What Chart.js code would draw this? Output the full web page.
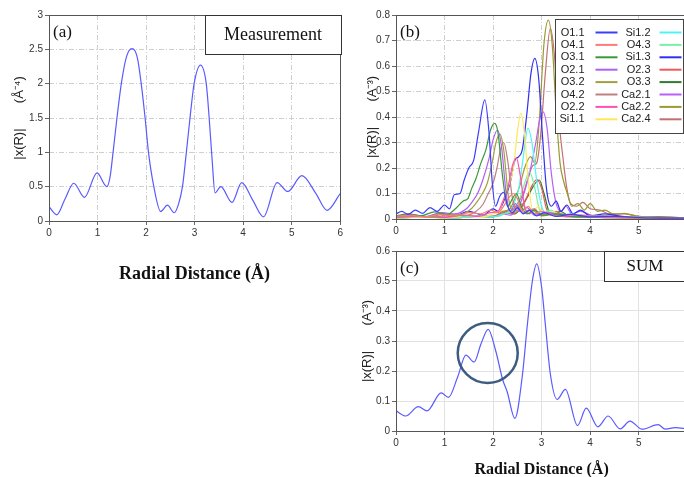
<!DOCTYPE html>
<html>
<head>
<meta charset="utf-8">
<script src="https://cdn.jsdelivr.net/npm/chart.js@4.4.0/dist/chart.umd.min.js"></script>
<style>
	html, body { margin: 0; padding: 0; background: #fff; width: 684px; height: 477px; overflow: hidden; position: relative; }
	canvas { position: absolute; }
	#ca { left: 0; top: 0; }
	#cb { left: 345px; top: 0; }
	#cc { left: 345px; top: 240px; }
</style>
</head>
<body>
<canvas id="ca" width="345" height="290"></canvas>
<canvas id="cb" width="347" height="240"></canvas>
<canvas id="cc" width="347" height="245"></canvas>
<script>
// (a) measured |x(R)|
const measR = [0, 0.16, 0.33, 0.51, 0.73, 0.99, 1.19, 1.26, 1.32, 1.4, 1.49, 1.6, 1.71, 1.82, 1.9, 1.98, 2.05, 2.16, 2.3, 2.44, 2.58, 2.67, 2.75, 2.83, 2.92, 2.99, 3.12, 3.24, 3.3, 3.36, 3.42, 3.54, 3.77, 3.97, 4.2, 4.42, 4.7, 4.92, 5.21, 5.5, 5.73, 6]
const measChi = [0.21, 0.09, 0.32, 0.55, 0.345, 0.7, 0.5, 0.65, 1.0, 1.5, 2.0, 2.4, 2.51, 2.38, 2.0, 1.5, 1.0, 0.5, 0.14, 0.23, 0.12, 0.25, 0.5, 1.0, 1.6, 2.0, 2.27, 2.0, 1.5, 0.9, 0.41, 0.5, 0.27, 0.56, 0.3, 0.06, 0.56, 0.43, 0.66, 0.4, 0.155, 0.4]

// (c) summed paths
const sumR = [0, 0.2, 0.46, 0.64, 0.93, 1.08, 1.27, 1.44, 1.61, 1.75, 1.9, 2.05, 2.2, 2.29, 2.45, 2.6, 2.71, 2.81, 2.9, 3.0, 3.08, 3.18, 3.32, 3.49, 3.74, 3.92, 4.16, 4.37, 4.62, 4.82, 5.07, 5.4, 5.55, 5.75, 6]
const sumChi = [0.067, 0.05, 0.081, 0.067, 0.127, 0.112, 0.18, 0.253, 0.23, 0.29, 0.339, 0.27, 0.17, 0.131, 0.042, 0.18, 0.36, 0.5, 0.557, 0.48, 0.35, 0.19, 0.105, 0.139, 0.018, 0.076, 0.014, 0.05, 0.007, 0.033, 0.006, 0.021, 0.006, 0.011, 0.007]

// (b) single scattering paths, [R, |x(R)|]
const o11 = [[0,0.02],[0.12,0.03],[0.25,0.018],[0.4,0.035],[0.55,0.022],[0.7,0.045],[0.85,0.03],[1.0,0.055],[1.1,0.04],[1.2,0.095],[1.32,0.1],[1.4,0.15],[1.5,0.2],[1.6,0.23],[1.7,0.34],[1.83,0.467],[1.92,0.33],[1.98,0.15],[2.05,0.05],[2.14,0.09],[2.22,0.105],[2.3,0.05],[2.4,0.025],[2.5,0.045],[2.62,0.02],[2.75,0.035],[2.9,0.012],[3.05,0.025],[3.3,0.01],[3.6,0.018],[4.0,0.008],[4.5,0.01],[5.2,0.004],[6,0.003]]
const o41 = [[0,0.01],[0.3,0.015],[0.6,0.008],[0.9,0.018],[1.2,0.012],[1.5,0.025],[1.75,0.02],[1.95,0.035],[2.1,0.025],[2.25,0.06],[2.35,0.09],[2.42,0.1],[2.5,0.08],[2.6,0.03],[2.72,0.05],[2.85,0.02],[3.0,0.03],[3.3,0.012],[3.7,0.015],[4.2,0.006],[5,0.004],[6,0.002]]
const o31 = [[0,0.012],[0.25,0.02],[0.5,0.012],[0.8,0.028],[1.05,0.018],[1.25,0.045],[1.38,0.07],[1.48,0.08],[1.56,0.12],[1.65,0.16],[1.75,0.22],[1.85,0.27],[1.95,0.35],[2.03,0.375],[2.1,0.34],[2.2,0.16],[2.3,0.05],[2.4,0.08],[2.48,0.1],[2.58,0.05],[2.7,0.02],[2.85,0.035],[3.0,0.015],[3.3,0.02],[3.7,0.008],[4.3,0.01],[5,0.004],[6,0.002]]
const o21 = [[0,0.01],[0.3,0.018],[0.6,0.01],[0.95,0.025],[1.2,0.02],[1.45,0.04],[1.58,0.07],[1.68,0.1],[1.8,0.16],[1.92,0.24],[2.0,0.31],[2.09,0.349],[2.17,0.29],[2.27,0.1],[2.36,0.03],[2.46,0.06],[2.55,0.03],[2.7,0.045],[2.85,0.015],[3.1,0.025],[3.5,0.01],[4,0.012],[5,0.004],[6,0.002]]
const o32 = [[0,0.008],[0.35,0.015],[0.7,0.008],[1.0,0.02],[1.3,0.015],[1.55,0.04],[1.68,0.07],[1.78,0.1],[1.88,0.14],[1.98,0.22],[2.06,0.3],[2.14,0.333],[2.22,0.27],[2.32,0.08],[2.42,0.03],[2.52,0.055],[2.62,0.025],[2.8,0.035],[3.0,0.012],[3.3,0.02],[3.8,0.008],[4.5,0.008],[6,0.002]]
const o42 = [[0,0.007],[0.4,0.012],[0.8,0.007],[1.1,0.018],[1.4,0.012],[1.65,0.03],[1.8,0.06],[1.9,0.1],[2.0,0.14],[2.08,0.2],[2.15,0.27],[2.22,0.3],[2.3,0.23],[2.4,0.08],[2.5,0.03],[2.6,0.06],[2.7,0.03],[2.85,0.04],[3.0,0.015],[3.3,0.022],[3.8,0.008],[4.5,0.008],[6,0.002]]
const o22 = [[0,0.006],[0.5,0.01],[1.0,0.006],[1.4,0.015],[1.7,0.01],[1.95,0.025],[2.1,0.03],[2.2,0.07],[2.3,0.12],[2.4,0.21],[2.48,0.24],[2.56,0.17],[2.65,0.05],[2.75,0.02],[2.85,0.04],[2.95,0.015],[3.15,0.025],[3.5,0.008],[4.2,0.008],[5,0.003],[6,0.002]]
const si11 = [[0,0.004],[0.5,0.008],[1.0,0.004],[1.5,0.012],[1.8,0.008],[2.0,0.02],[2.12,0.03],[2.22,0.08],[2.32,0.13],[2.42,0.2],[2.5,0.34],[2.57,0.414],[2.65,0.33],[2.74,0.12],[2.83,0.03],[2.93,0.05],[3.05,0.015],[3.2,0.03],[3.5,0.01],[4,0.012],[5,0.004],[6,0.002]]
const si12 = [[0,0.004],[0.6,0.007],[1.2,0.004],[1.7,0.01],[2.0,0.008],[2.2,0.02],[2.35,0.03],[2.45,0.07],[2.53,0.12],[2.62,0.24],[2.72,0.356],[2.8,0.3],[2.9,0.15],[3.0,0.05],[3.1,0.02],[3.2,0.035],[3.35,0.012],[3.6,0.02],[4,0.006],[4.6,0.008],[6,0.002]]
const o43 = [[0,0.005],[0.6,0.008],[1.2,0.005],[1.8,0.012],[2.1,0.01],[2.3,0.025],[2.45,0.03],[2.55,0.08],[2.65,0.14],[2.75,0.185],[2.85,0.13],[2.95,0.04],[3.05,0.02],[3.15,0.035],[3.3,0.01],[3.6,0.015],[4.2,0.005],[5,0.004],[6,0.002]]
const si13 = [[0,0.01],[0.3,0.015],[0.6,0.008],[0.9,0.02],[1.2,0.012],[1.5,0.03],[1.8,0.015],[2.0,0.04],[2.1,0.03],[2.22,0.07],[2.35,0.14],[2.45,0.23],[2.53,0.245],[2.6,0.27],[2.7,0.42],[2.78,0.57],[2.86,0.63],[2.94,0.55],[3.02,0.32],[3.1,0.12],[3.2,0.05],[3.3,0.07],[3.4,0.03],[3.52,0.055],[3.65,0.02],[3.8,0.035],[4.0,0.012],[4.3,0.02],[4.8,0.006],[5.4,0.006],[6,0.002]]
const o23 = [[0,0.006],[0.5,0.01],[1.0,0.006],[1.5,0.014],[2.0,0.01],[2.25,0.025],[2.4,0.02],[2.55,0.04],[2.68,0.08],[2.8,0.13],[2.9,0.155],[3.0,0.12],[3.1,0.04],[3.2,0.015],[3.3,0.03],[3.5,0.01],[3.8,0.015],[4.3,0.005],[5,0.004],[6,0.002]]
const o33 = [[0,0.006],[0.5,0.01],[1.0,0.006],[1.5,0.012],[2.0,0.009],[2.3,0.025],[2.45,0.02],[2.6,0.05],[2.72,0.09],[2.85,0.135],[2.95,0.153],[3.05,0.1],[3.15,0.03],[3.25,0.015],[3.38,0.03],[3.6,0.01],[4.0,0.014],[4.6,0.005],[6,0.002]]
const ca21 = [[0,0.006],[0.5,0.01],[1.0,0.006],[1.5,0.012],[2.0,0.01],[2.2,0.02],[2.35,0.015],[2.5,0.04],[2.62,0.09],[2.75,0.18],[2.88,0.3],[2.96,0.39],[3.03,0.42],[3.11,0.36],[3.2,0.18],[3.3,0.06],[3.4,0.03],[3.5,0.05],[3.62,0.02],[3.8,0.03],[4.1,0.01],[4.5,0.012],[5,0.004],[6,0.002]]
const ca22 = [[0,0.004],[0.6,0.008],[1.2,0.005],[1.7,0.012],[2.0,0.01],[2.2,0.03],[2.35,0.04],[2.45,0.08],[2.55,0.13],[2.65,0.2],[2.77,0.245],[2.86,0.22],[2.95,0.38],[3.05,0.69],[3.14,0.78],[3.22,0.68],[3.3,0.42],[3.38,0.22],[3.45,0.15],[3.53,0.1],[3.62,0.05],[3.75,0.06],[3.88,0.035],[4.0,0.06],[4.15,0.03],[4.3,0.035],[4.5,0.018],[4.7,0.022],[5.0,0.01],[5.5,0.008],[6,0.004]]
const ca24 = [[0,0.004],[0.6,0.007],[1.2,0.004],[1.7,0.01],[2.0,0.008],[2.25,0.03],[2.4,0.035],[2.5,0.06],[2.62,0.1],[2.72,0.16],[2.82,0.21],[2.9,0.22],[2.98,0.33],[3.08,0.58],[3.18,0.748],[3.26,0.65],[3.35,0.4],[3.44,0.24],[3.52,0.12],[3.6,0.06],[3.72,0.05],[3.85,0.065],[4.0,0.04],[4.2,0.035],[4.4,0.02],[4.7,0.02],[5.0,0.01],[5.5,0.008],[6,0.004]]

const pathLabels = ['O1.1', 'O4.1', 'O3.1', 'O2.1', 'O3.2', 'O4.2', 'O2.2', 'Si1.1', 'Si1.2', 'O4.3', 'Si1.3', 'O2.3', 'O3.3', 'Ca2.1', 'Ca2.2', 'Ca2.4']
const pathData = [o11, o41, o31, o21, o32, o42, o22, si11, si12, o43, si13, o23, o33, ca21, ca22, ca24]
const pathColors = ['#3c3cff', '#ff7a7a', '#3a9a3a', '#b060f0', '#a0a040', '#c08080', '#ff50b4', '#ffe85a', '#4cf4f4', '#78f0a8', '#3030f0', '#f05a5a', '#2e7a2e', '#b860f8', '#9a9a30', '#c07070']

// tick labels
const rTicks = [0, 1, 2, 3, 4, 5, 6]
const measTicks = [0, 0.5, 1, 1.5, 2, 2.5, 3]
const pathTicks = [0, 0.1, 0.2, 0.3, 0.4, 0.5, 0.6, 0.7, 0.8]
const sumTicks = [0, 0.1, 0.2, 0.3, 0.4, 0.5, 0.6]

const sans = '"Liberation Sans Narrow", "Liberation Sans", Arial, sans-serif'
const serif = '"Liberation Serif", "Times New Roman", serif'
const tickFont = { family: sans, size: 10 }

const fmt = (v) => String(Math.round(v * 10) / 10)
const pts = (xs, ys) => xs.map((x, i) => ({ x, y: ys[i] }))

function axes(o) {
	return {
		x: {
			type: 'linear',
			min: 0,
			max: 6,
			afterBuildTicks: (s) => { s.ticks = rTicks.map((v) => ({ value: v })) },
			afterFit: (s) => { s.height = o.xHeight },
			grid: { color: o.grid, tickLength: 4, tickColor: '#666' },
			border: { display: false, dash: o.dash },
			ticks: { font: tickFont, color: '#333', padding: 2, maxRotation: 0, autoSkip: false, callback: fmt },
			title: o.xTitle
				? { display: true, text: 'Radial Distance (Å)', color: '#111', font: { family: serif, size: o.xTitle, weight: 'bold' }, padding: { top: 0, bottom: o.xPad } }
				: { display: false },
		},
		y: {
			min: 0,
			max: o.yTicks[o.yTicks.length - 1],
			afterBuildTicks: (s) => { s.ticks = o.yTicks.map((v) => ({ value: v })) },
			afterFit: (s) => { s.width = o.yWidth },
			grid: { color: o.grid, tickLength: 4, tickColor: '#666' },
			border: { display: false, dash: o.dash },
			ticks: { font: tickFont, color: '#333', padding: 2, autoSkip: false, callback: fmt },
			title: { display: true, text: o.yTitle, color: '#222', font: { family: sans, size: 13 }, padding: { top: o.yPad, bottom: 0 } },
		},
	}
}

// plot frame, panel tag and boxed caption
function decor(tag, tagDy, box) {
	return {
		id: 'decor',
		afterDraw(chart) {
			const { ctx, chartArea: a } = chart
			ctx.save()
			ctx.strokeStyle = '#555'
			ctx.lineWidth = 1
			ctx.strokeRect(Math.round(a.left) + 0.5, Math.round(a.top) + 0.5, Math.round(a.width), Math.round(a.height))
			ctx.fillStyle = '#111'
			ctx.font = '17px ' + serif
			ctx.textBaseline = 'middle'
			ctx.textAlign = 'left'
			ctx.fillText(tag, a.left + 4, a.top + tagDy)
			if (box) {
				const bx = Math.round(a.left + box.dx) + 0.5
				const by = Math.round(a.top) + 0.5
				ctx.fillStyle = '#fff'
				ctx.fillRect(bx, by, box.w, box.h)
				ctx.strokeStyle = '#333'
				ctx.strokeRect(bx, by, box.w, box.h)
				ctx.fillStyle = '#111'
				ctx.font = box.size + 'px ' + serif
				ctx.textAlign = 'center'
				ctx.fillText(box.text, a.left + box.tx, a.top + box.h / 2 + 1)
			}
			ctx.restore()
		},
	}
}

// two-column key with labels right-aligned before the line sample
const pathKey = {
	id: 'pathKey',
	afterDraw(chart) {
		const { ctx, chartArea: a } = chart
		const x0 = Math.round(a.left + 159) + 0.5
		const y0 = Math.round(a.top + 4) + 0.5
		ctx.save()
		ctx.fillStyle = '#fff'
		ctx.fillRect(x0, y0, 128, 114)
		ctx.strokeStyle = '#444'
		ctx.lineWidth = 1
		ctx.strokeRect(x0, y0, 128, 114)
		ctx.font = '11px ' + sans
		ctx.textAlign = 'right'
		ctx.textBaseline = 'middle'
		chart.data.datasets.forEach((ds, i) => {
			const col = Math.floor(i / 8)
			const row = i % 8
			const tx = x0 + (col ? 95 : 29)
			const ty = y0 + 13 + row * 12.4
			ctx.fillStyle = '#222'
			ctx.fillText(ds.label, tx, ty)
			ctx.strokeStyle = ds.borderColor
			ctx.lineWidth = 2
			ctx.beginPath()
			ctx.moveTo(tx + (col ? 9 : 11), ty)
			ctx.lineTo(tx + (col ? 31 : 33), ty)
			ctx.stroke()
		})
		ctx.restore()
	},
}

// ring around the 1.4-2.2 Å doublet of the sum
const ring = {
	id: 'ring',
	afterDatasetsDraw(chart) {
		const { ctx, scales } = chart
		ctx.save()
		ctx.strokeStyle = '#3d5c80'
		ctx.lineWidth = 2.5
		ctx.beginPath()
		ctx.arc(scales.x.getPixelForValue(1.89), scales.y.getPixelForValue(0.26), 30, 0, Math.PI * 2)
		ctx.stroke()
		ctx.restore()
	},
}

const line = (color) => ({
	borderColor: color,
	borderWidth: 1.2,
	pointRadius: 0,
	fill: false,
	cubicInterpolationMode: 'monotone',
})

const base = { responsive: false, animation: false, events: [], plugins: { legend: { display: false }, tooltip: { enabled: false } } }

new Chart(document.getElementById('ca'), {
	type: 'line',
	data: { datasets: [{ label: 'Measurement', data: pts(measR, measChi), ...line('#5a5aff') }] },
	options: {
		...base,
		layout: { padding: { top: 15, right: 4, left: 0, bottom: 0 } },
		scales: axes({ xHeight: 69, yWidth: 49, yTicks: measTicks, grid: '#cfcfcf', dash: [5, 2, 1, 2], xTitle: 18, xPad: 5, yTitle: '|x(R)|       (Å⁻⁴)', yPad: 12 }),
	},
	plugins: [decor('(a)', 18, { dx: 156, w: 136, h: 39, text: 'Measurement', size: 18, tx: 224 })],
})

new Chart(document.getElementById('cb'), {
	type: 'line',
	data: {
		datasets: pathData.map((d, i) => ({
			label: pathLabels[i],
			data: d.map(([x, y]) => ({ x, y })),
			...line(pathColors[i]),
		})),
	},
	options: {
		...base,
		layout: { padding: { top: 15, right: 4, left: 0, bottom: 0 } },
		scales: axes({ xHeight: 21, yWidth: 51, yTicks: pathTicks, grid: '#cfcfcf', dash: [5, 2, 1, 2], yTitle: '|x(R)|       (A⁻³)', yPad: 20 }),
	},
	plugins: [decor('(b)', 18), pathKey],
})

new Chart(document.getElementById('cc'), {
	type: 'line',
	data: { datasets: [{ label: 'SUM', data: pts(sumR, sumChi), ...line('#5a5aff') }] },
	options: {
		...base,
		layout: { padding: { top: 11, right: 4, left: 0, bottom: 0 } },
		scales: axes({ xHeight: 54, yWidth: 51, yTicks: sumTicks, grid: '#e2e2e2', dash: [], xTitle: 16, xPad: 6, yTitle: '|x(R)|       (A⁻³)', yPad: 15 }),
	},
	plugins: [ring, decor('(c)', 18, { dx: 208, w: 90, h: 30, text: 'SUM', size: 17, tx: 249 })],
})
</script>
</body>
</html>
